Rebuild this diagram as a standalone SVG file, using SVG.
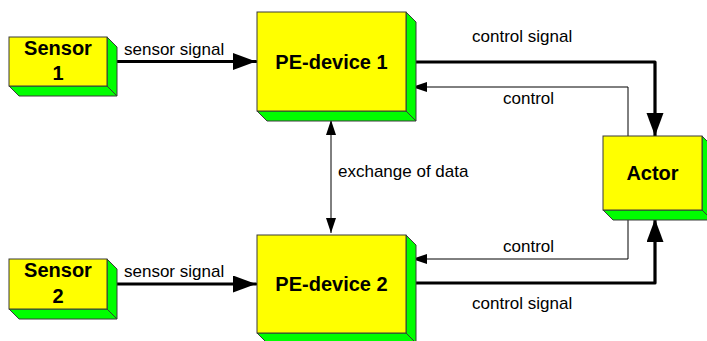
<svg xmlns="http://www.w3.org/2000/svg" width="707" height="341" viewBox="0 0 707 341">
  <style>
    .front { fill: #ffff00; stroke: #3a3a3a; stroke-width: 1; }
    .side { fill: #00ff00; stroke: #3a3a3a; stroke-width: 1; stroke-linejoin: round; }
    .name { font-family: "Liberation Sans", Arial, sans-serif; font-weight: bold; font-size: 20px; fill: #000; text-anchor: middle; }
    .lbl { font-family: "Liberation Sans", Arial, sans-serif; font-size: 17px; fill: #000; }
    .thick { fill: none; stroke: #000; stroke-width: 3.2; stroke-linecap: round; stroke-linejoin: round; }
    .thin { fill: none; stroke: #000; stroke-width: 1; }
  </style>
  <defs>
    <marker id="bigHead" markerUnits="userSpaceOnUse" markerWidth="24" markerHeight="18" refX="23" refY="8.5" orient="auto">
      <path d="M0,0 L23,8.5 L0,17 Z" fill="#000"/>
    </marker>
    <marker id="smallHead" markerUnits="userSpaceOnUse" markerWidth="16" markerHeight="11" refX="15" refY="5" orient="auto">
      <path d="M0,0 L15,5 L0,10 Z" fill="#000"/>
    </marker>
    <marker id="smallHeadStart" markerUnits="userSpaceOnUse" markerWidth="16" markerHeight="11" refX="0" refY="5" orient="auto">
      <path d="M15,0 L0,5 L15,10 Z" fill="#000"/>
    </marker>
  </defs>

  <!-- connectors -->
  <g id="connectors">
    <path class="thick" d="M113,61.5 H256" marker-end="url(#bigHead)"/>
    <path class="thick" d="M113,284 H256" marker-end="url(#bigHead)"/>
    <path class="thick" d="M412,62 H655 V136" marker-end="url(#bigHead)"/>
    <path class="thin" d="M628,136 V87 H412" marker-end="url(#smallHead)"/>
    <path class="thin" d="M628,219 V259 H412" marker-end="url(#smallHead)"/>
    <path class="thick" d="M412,283 H655 V219" marker-end="url(#bigHead)"/>
    <path class="thin" d="M331,120 V233" marker-start="url(#smallHeadStart)" marker-end="url(#smallHead)"/>
  </g>

  <!-- connector labels -->
  <g id="labels">
    <text class="lbl" x="124" y="55">sensor signal</text>
    <text class="lbl" x="124" y="277">sensor signal</text>
    <text class="lbl" x="472" y="42">control signal</text>
    <text class="lbl" x="503" y="104">control</text>
    <text class="lbl" x="503" y="252">control</text>
    <text class="lbl" x="472" y="309">control signal</text>
    <text class="lbl" x="338" y="177">exchange of data</text>
  </g>

  <!-- Sensor 1 -->
  <g id="sensor1">
    <polygon class="side" points="107,37 117,47 117,96 107,86"/>
    <polygon class="side" points="9,86 107,86 117,96 19,96"/>
    <rect class="front" x="9" y="37" width="98" height="49"/>
    <text class="name" x="58" y="55">Sensor</text>
    <text class="name" x="58" y="80">1</text>
  </g>

  <!-- Sensor 2 -->
  <g id="sensor2">
    <polygon class="side" points="107,259 117,269 117,319 107,309"/>
    <polygon class="side" points="9,309 107,309 117,319 19,319"/>
    <rect class="front" x="9" y="259" width="98" height="50"/>
    <text class="name" x="58" y="277">Sensor</text>
    <text class="name" x="58" y="303">2</text>
  </g>

  <!-- PE-device 1 -->
  <g id="pe1">
    <polygon class="side" points="406,12 416,22 416,121 406,111"/>
    <polygon class="side" points="257,111 406,111 416,121 267,121"/>
    <rect class="front" x="257" y="12" width="149" height="99"/>
    <text class="name" x="331.5" y="68.5">PE-device 1</text>
  </g>

  <!-- PE-device 2 -->
  <g id="pe2">
    <polygon class="side" points="406,235 416,245 416,343 406,333"/>
    <polygon class="side" points="257,333 406,333 416,343 267,343"/>
    <rect class="front" x="257" y="235" width="149" height="98"/>
    <text class="name" x="331.5" y="291">PE-device 2</text>
  </g>

  <!-- Actor -->
  <g id="actor">
    <polygon class="side" points="702,136 712,146 712,220 702,210"/>
    <polygon class="side" points="603,210 702,210 712,220 613,220"/>
    <rect class="front" x="603" y="136" width="99" height="74"/>
    <text class="name" x="652.5" y="180">Actor</text>
  </g>
</svg>
